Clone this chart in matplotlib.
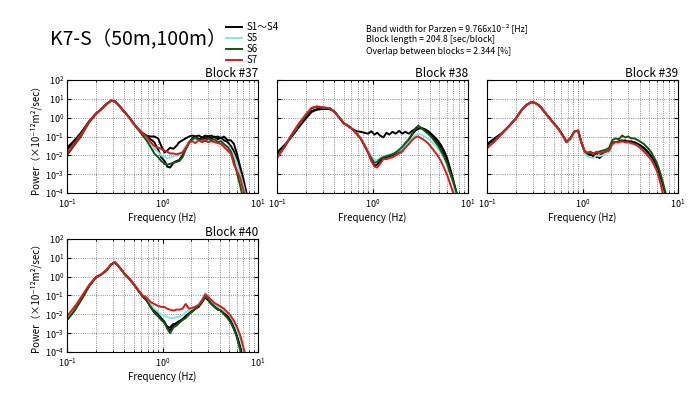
import numpy as np
import matplotlib.pyplot as plt

plt.rcParams['font.family'] = ['Noto Sans CJK JP', 'DejaVu Sans']

# frequency samples (Hz) shared by all curves
freq = [0.10, 0.12, 0.14, 0.17, 0.20, 0.23, 0.26, 0.29, 0.32, 0.36, 0.40, 0.45,
        0.50, 0.56, 0.62, 0.68, 0.75, 0.82, 0.90, 0.97, 1.05, 1.12, 1.20, 1.30,
        1.40, 1.50, 1.62, 1.75, 1.90, 2.05, 2.20, 2.40, 2.60, 2.80, 3.00, 3.25,
        3.50, 3.80, 4.10, 4.40, 4.80, 5.20, 5.60, 6.00, 6.50, 7.00, 7.50, 8.00]

# log10 of power (x10^-12 m^2/sec)
# Block #37
b37_k1 = [-1.6, -1.2, -0.8, -0.2, 0.2, 0.47, 0.73, 0.9, 0.85, 0.57, 0.3, 0.0, -0.32, -0.62,
          -0.82, -0.95, -1.0, -1.0, -1.1, -1.5, -1.85, -1.75, -1.6, -1.65, -1.5, -1.3, -1.2,
          -1.1, -1.0, -0.95, -1.0, -0.95, -1.05, -0.95, -1.0, -0.95, -1.05, -1.0, -1.1, -1.0,
          -1.2, -1.2, -1.4, -1.9, -2.6, -3.2, -3.9, -4.6]
b37_k2 = [-1.7, -1.25, -0.85, -0.22, 0.2, 0.47, 0.73, 0.9, 0.85, 0.57, 0.3, 0.0, -0.32, -0.62,
          -0.85, -1.0, -1.15, -1.3, -1.7, -2.1, -2.3, -2.6, -2.65, -2.4, -2.3, -2.25, -2.0,
          -1.6, -1.3, -1.1, -1.0, -1.15, -1.05, -1.1, -1.0, -1.1, -1.0, -1.15, -1.05, -1.2,
          -1.3, -1.5, -1.8, -2.2, -2.9, -3.5, -4.2, -4.9]
b37_s5 = [-1.9, -1.4, -0.95, -0.25, 0.18, 0.46, 0.72, 0.9, 0.86, 0.58, 0.3, 0.0, -0.33, -0.63,
          -0.9, -1.1, -1.35, -1.6, -1.85, -2.0, -2.1, -2.15, -2.1, -2.05, -2.0, -1.95, -1.8,
          -1.5, -1.3, -1.2, -1.15, -1.2, -1.3, -1.2, -1.25, -1.2, -1.3, -1.25, -1.35, -1.45,
          -1.6, -1.7, -2.0, -2.4, -3.0, -3.6, -4.2, -4.9]
b37_s6 = [-2.0, -1.45, -1.0, -0.26, 0.18, 0.46, 0.72, 0.91, 0.87, 0.58, 0.3, 0.0, -0.34, -0.65,
          -0.95, -1.2, -1.55, -1.9, -2.1, -2.3, -2.45, -2.5, -2.45, -2.4, -2.35, -2.3, -2.1,
          -1.7, -1.35, -1.15, -1.05, -1.2, -1.15, -1.25, -1.1, -1.2, -1.15, -1.3, -1.25, -1.4,
          -1.55, -1.8, -2.3, -2.9, -3.6, -4.3, -5.0, -5.5]
b37_s7 = [-1.9, -1.35, -0.9, -0.22, 0.2, 0.47, 0.73, 0.92, 0.87, 0.58, 0.3, 0.0, -0.32, -0.6,
          -0.85, -1.0, -1.3, -1.5, -1.6, -1.65, -1.75, -1.8, -1.9, -1.9, -1.95, -1.9, -1.85,
          -1.6, -1.3, -1.25, -1.35, -1.2, -1.3, -1.2, -1.3, -1.25, -1.3, -1.35, -1.4, -1.55,
          -1.75, -1.9, -2.5, -2.8, -3.2, -3.8, -4.4, -5.0]

# Block #38
b38_k1 = [-1.85, -1.45, -1.05, -0.5, -0.05, 0.3, 0.42, 0.45, 0.47, 0.45, 0.32, 0.0, -0.3, -0.45,
          -0.62, -0.72, -0.75, -0.8, -0.85, -0.72, -0.9, -0.8, -0.95, -1.05, -0.8, -0.9, -0.75,
          -0.85, -0.7, -0.85, -0.75, -0.85, -0.7, -0.6, -0.45, -0.55, -0.65, -0.8, -0.95, -1.1,
          -1.35, -1.6, -1.9, -2.3, -2.9, -3.4, -4.0, -4.6]
b38_k2 = [-1.95, -1.5, -1.05, -0.45, 0.0, 0.35, 0.45, 0.47, 0.48, 0.45, 0.32, 0.0, -0.3, -0.45,
          -0.62, -0.85, -1.1, -1.45, -1.85, -2.25, -2.55, -2.5, -2.3, -2.15, -2.1, -2.05, -2.0,
          -1.9, -1.8, -1.65, -1.45, -1.2, -0.9, -0.7, -0.6, -0.55, -0.6, -0.7, -0.85, -1.0,
          -1.2, -1.45, -1.75, -2.1, -2.7, -3.3, -3.9, -4.5]
b38_s5 = [-2.1, -1.55, -1.0, -0.35, 0.15, 0.5, 0.58, 0.55, 0.52, 0.5, 0.3, 0.0, -0.3, -0.45,
          -0.62, -0.85, -1.1, -1.4, -1.75, -2.0, -2.25, -2.25, -2.15, -2.05, -2.0, -1.95, -1.9,
          -1.85, -1.75, -1.65, -1.5, -1.3, -1.1, -0.95, -0.85, -0.9, -1.0, -1.1, -1.25, -1.4,
          -1.6, -1.85, -2.15, -2.5, -3.0, -3.5, -4.1, -4.7]
b38_s6 = [-2.1, -1.55, -1.0, -0.35, 0.15, 0.5, 0.58, 0.55, 0.52, 0.5, 0.3, 0.0, -0.3, -0.45,
          -0.62, -0.85, -1.1, -1.45, -1.85, -2.15, -2.4, -2.35, -2.2, -2.1, -2.05, -2.0, -1.95,
          -1.85, -1.7, -1.55, -1.35, -1.15, -0.85, -0.6, -0.45, -0.55, -0.7, -0.85, -1.0, -1.2,
          -1.45, -1.75, -2.05, -2.4, -2.95, -3.4, -3.9, -4.4]
b38_s7 = [-2.15, -1.55, -0.95, -0.3, 0.15, 0.52, 0.6, 0.57, 0.54, 0.5, 0.3, 0.0, -0.3, -0.45,
          -0.62, -0.85, -1.1, -1.45, -1.85, -2.3, -2.6, -2.65, -2.45, -2.2, -2.2, -2.15, -2.1,
          -2.0, -1.9, -1.8, -1.6, -1.4, -1.2, -1.05, -1.0, -1.1, -1.2, -1.35, -1.55, -1.75,
          -2.0, -2.3, -2.65, -3.0, -3.5, -4.0, -4.6, -5.2]

# Block #39
b39_k1 = [-1.4, -1.1, -0.85, -0.45, -0.05, 0.4, 0.68, 0.82, 0.78, 0.6, 0.3, -0.02, -0.3, -0.6,
          -0.95, -1.3, -1.1, -0.75, -0.7, -1.3, -1.8, -1.9, -2.0, -1.95, -2.1, -2.05, -1.9,
          -1.85, -1.8, -1.3, -1.35, -1.25, -1.2, -1.3, -1.25, -1.3, -1.3, -1.4, -1.5, -1.6,
          -1.8, -2.0, -2.3, -2.6, -3.1, -3.7, -4.3, -5.0]
b39_k2 = [-1.5, -1.15, -0.88, -0.45, -0.05, 0.4, 0.68, 0.82, 0.78, 0.6, 0.3, -0.02, -0.3, -0.6,
          -0.95, -1.3, -1.1, -0.75, -0.7, -1.3, -1.8, -2.0, -1.85, -2.1, -1.9, -2.15, -2.0,
          -1.8, -1.75, -1.35, -1.3, -1.3, -1.25, -1.2, -1.3, -1.25, -1.35, -1.4, -1.5, -1.65,
          -1.85, -2.05, -2.3, -2.7, -3.2, -3.8, -4.4, -5.0]
b39_s5 = [-1.6, -1.25, -0.9, -0.45, -0.05, 0.4, 0.68, 0.82, 0.78, 0.6, 0.3, -0.02, -0.3, -0.62,
          -0.97, -1.32, -1.15, -0.8, -0.72, -1.3, -1.85, -2.05, -2.1, -2.15, -2.0, -2.05, -2.0,
          -1.9, -1.85, -1.45, -1.4, -1.35, -1.3, -1.35, -1.35, -1.4, -1.45, -1.5, -1.65, -1.8,
          -2.0, -2.2, -2.5, -2.9, -3.4, -4.0, -4.6, -5.2]
b39_s6 = [-1.62, -1.25, -0.9, -0.45, -0.05, 0.4, 0.68, 0.83, 0.79, 0.61, 0.31, -0.01, -0.29, -0.58,
          -0.93, -1.28, -1.08, -0.73, -0.68, -1.28, -1.8, -1.9, -1.8, -1.9, -1.85, -1.8, -1.75,
          -1.7, -1.6, -1.2, -1.1, -1.15, -0.95, -1.05, -1.0, -1.1, -1.1, -1.2, -1.3, -1.4,
          -1.6, -1.8, -2.1, -2.4, -2.9, -3.5, -4.1, -4.7]
b39_s7 = [-1.62, -1.25, -0.9, -0.45, -0.05, 0.4, 0.68, 0.82, 0.78, 0.6, 0.3, -0.02, -0.3, -0.6,
          -0.95, -1.3, -1.1, -0.75, -0.68, -1.3, -1.75, -1.85, -1.85, -1.95, -1.8, -1.9, -1.85,
          -1.8, -1.75, -1.4, -1.3, -1.3, -1.25, -1.3, -1.3, -1.35, -1.4, -1.5, -1.65, -1.8,
          -2.0, -2.2, -2.5, -2.8, -3.4, -4.1, -4.8, -5.4]

# Block #40
b40_k1 = [-2.25, -1.75, -1.2, -0.5, -0.05, 0.12, 0.35, 0.65, 0.75, 0.45, 0.15, -0.12, -0.4, -0.75,
          -1.05, -1.2, -1.55, -1.8, -2.0, -2.2, -2.4, -2.7, -2.85, -2.6, -2.45, -2.35, -2.3,
          -2.1, -1.95, -1.8, -1.7, -1.55, -1.3, -1.0, -1.2, -1.4, -1.55, -1.7, -1.8, -1.95,
          -2.1, -2.35, -2.7, -3.1, -3.7, -4.3, -5.0, -5.6]
b40_k2 = [-2.3, -1.8, -1.25, -0.5, -0.05, 0.12, 0.35, 0.65, 0.75, 0.45, 0.15, -0.12, -0.4, -0.75,
          -1.05, -1.25, -1.6, -1.9, -2.1, -2.25, -2.45, -2.65, -2.7, -2.5, -2.55, -2.4, -2.25,
          -2.1, -1.95, -1.85, -1.7, -1.6, -1.35, -1.1, -1.25, -1.45, -1.6, -1.75, -1.8, -1.95,
          -2.15, -2.4, -2.75, -3.15, -3.8, -4.4, -5.0, -5.6]
b40_s5 = [-2.2, -1.7, -1.15, -0.5, -0.05, 0.12, 0.35, 0.65, 0.75, 0.45, 0.15, -0.12, -0.4, -0.75,
          -1.05, -1.15, -1.45, -1.7, -1.85, -2.0, -2.05, -2.15, -2.2, -2.2, -2.15, -2.1, -2.05,
          -1.9, -1.8, -1.7, -1.6, -1.45, -1.2, -0.85, -1.1, -1.3, -1.45, -1.6, -1.7, -1.8,
          -1.95, -2.15, -2.45, -2.8, -3.3, -3.9, -4.5, -5.1]
b40_s6 = [-2.3, -1.8, -1.25, -0.52, -0.05, 0.12, 0.35, 0.65, 0.75, 0.45, 0.15, -0.12, -0.4, -0.75,
          -1.05, -1.25, -1.6, -1.9, -2.1, -2.3, -2.45, -2.75, -3.0, -2.7, -2.6, -2.45, -2.3,
          -2.2, -2.0, -1.85, -1.7, -1.55, -1.3, -1.05, -1.2, -1.45, -1.6, -1.75, -1.8, -2.0,
          -2.2, -2.45, -2.8, -3.2, -3.9, -4.5, -5.1, -5.7]
b40_s7 = [-2.1, -1.6, -1.1, -0.45, -0.02, 0.14, 0.37, 0.66, 0.76, 0.46, 0.16, -0.1, -0.38, -0.72,
          -1.0, -1.1, -1.35, -1.45, -1.55, -1.6, -1.62, -1.7, -1.75, -1.8, -1.75, -1.75, -1.7,
          -1.45, -1.7, -1.65, -1.6, -1.5, -1.25, -0.95, -1.05, -1.25, -1.4, -1.5, -1.6, -1.7,
          -1.9, -2.1, -2.35, -2.65, -3.1, -3.7, -4.3, -4.9]

block_names = ['Block #37', 'Block #38', 'Block #39', 'Block #40']
series_labels = ['S1～S4', 'S5', 'S6', 'S7']
series_colors = ['black', '#7fe8e8', '#0a5a0a', '#e01818']

panel_data = [
    [b37_k1, b37_k2, b37_s5, b37_s6, b37_s7],
    [b38_k1, b38_k2, b38_s5, b38_s6, b38_s7],
    [b39_k1, b39_k2, b39_s5, b39_s6, b39_s7],
    [b40_k1, b40_k2, b40_s5, b40_s6, b40_s7],
]

W, H = 698, 396
fig = plt.figure(figsize=(W / 100, H / 100), dpi=100)

# axes boxes in pixels: left, top, width, height
boxes = [(67, 80, 191, 113), (277, 80, 191, 113), (487, 80, 191, 113), (67, 239, 191, 113)]

handles = None
for i, (l, t, w, h) in enumerate(boxes):
    ax = fig.add_axes([l / W, 1 - (t + h) / H, w / W, h / H])
    k1, k2, s5, s6, s7 = panel_data[i]
    colors = [series_colors[0], series_colors[0], series_colors[1], series_colors[2], series_colors[3]]
    lines = []
    for vals, c in zip([k1, k2, s5, s6, s7], colors):
        ln, = ax.plot(freq, np.power(10.0, vals), color=c, lw=1.4)
        lines.append(ln)
    if handles is None:
        handles = [lines[0], lines[2], lines[3], lines[4]]

    ax.set_xscale('log')
    ax.set_yscale('log')
    ax.set_xlim(0.1, 10)
    ax.set_ylim(1e-4, 1e2)
    ax.set_yticks([1e-4, 1e-3, 1e-2, 1e-1, 1e0, 1e1, 1e2])
    ax.yaxis.set_minor_locator(plt.NullLocator())
    ax.grid(True, which='major', ls=':', color='0.4', lw=0.6)
    ax.grid(True, which='minor', axis='x', ls=':', color='0.4', lw=0.6)
    ax.tick_params(which='both', direction='in', top=True, right=True, labelsize=6.5)
    ax.tick_params(axis='x', pad=3.5)
    ax.tick_params(axis='y', pad=2)
    ax.tick_params(which='major', length=3)
    ax.tick_params(which='minor', length=1.5)
    for sp in ax.spines.values():
        sp.set_linewidth(0.8)
    if i in (1, 2):
        ax.set_yticklabels([])
    else:
        ax.set_ylabel('Power（×10⁻¹²m²/sec）', fontsize=7, labelpad=3)
    ax.set_xlabel('Frequency (Hz)', fontsize=7, labelpad=1)
    ax.set_title(block_names[i], loc='right', fontsize=8.5, pad=1.5)

fig.text(50 / W, 1 - 40 / H, 'K7-S（50m,100m）', fontsize=14, va='center', ha='left')

fig.legend(handles, series_labels, loc='upper left', bbox_to_anchor=(226 / W, 1 - 22 / H),
           frameon=False, fontsize=7, handlelength=1.6, handletextpad=0.5,
           labelspacing=0.1, borderpad=0, borderaxespad=0)

info = ['Band width for Parzen = 9.766x10⁻² [Hz]',
        'Block length = 204.8 [sec/block]',
        'Overlap between blocks = 2.344 [%]']
for j, s in enumerate(info):
    fig.text(366 / W, 1 - (28 + 11.7 * j) / H, s, fontsize=6.3, va='center', ha='left')

fig.savefig('out.png', dpi=100)
